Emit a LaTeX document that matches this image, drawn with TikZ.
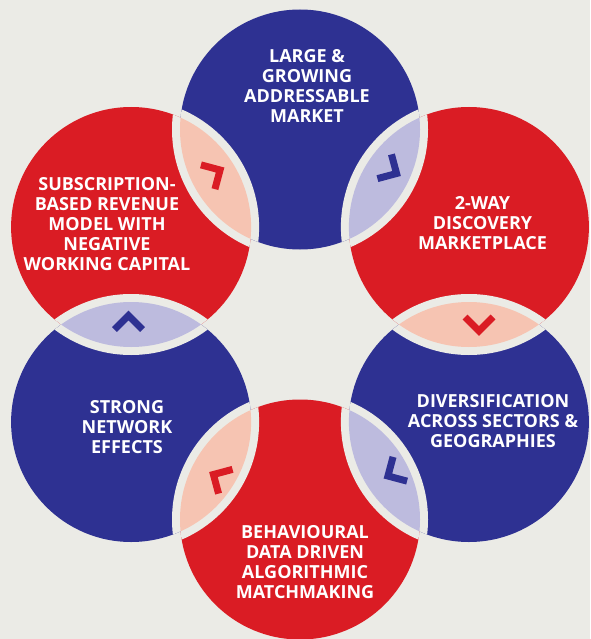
\documentclass[tikz,border=0pt]{standalone}
\usepackage{fontspec}
\setmainfont{Open Sans}
\definecolor{bg}{HTML}{EBEBE6}
\definecolor{cblue}{HTML}{2E3192}
\definecolor{cred}{HTML}{DA1C24}
\definecolor{lpink}{HTML}{F6C4B2}
\definecolor{llav}{HTML}{BDBBDE}
\begin{document}
\begin{tikzpicture}[x=1pt,y=-1pt,
  lbl/.style={text=white, font=\bfseries\fontsize{18}{20}\selectfont, align=center, inner sep=0pt},
  bigcirc/.style={circle, minimum size=240pt, inner sep=0pt, draw=none},
  chev/.style={line width=7pt, line join=miter, line cap=butt},
  chevron/.pic={\draw[chev, pic actions] (-7,-14) -- (7,0) -- (-7,14);}
]
\fill[bg] (0,0) rectangle (590,639);
\useasboundingbox (0,0) rectangle (590,639);
% circles
\node[bigcirc, fill=cblue] (T)  at (300,129.5) {};
\node[bigcirc, fill=cred]  (TR) at (468.9,227) {};
\node[bigcirc, fill=cblue] (BR) at (468.9,422) {};
\node[bigcirc, fill=cred]  (B)  at (300,519.5) {};
\node[bigcirc, fill=cblue] (BL) at (131.1,422) {};
\node[bigcirc, fill=cred]  (TL) at (131.1,227) {};
% lenses: grey band outside the overlap, then the overlap fill
\newcommand{\mylens}[3]{%
  \begin{scope}\clip (#1.center) circle[radius=120pt]; \draw[bg, line width=16pt] (#2.center) circle[radius=120pt];\end{scope}
  \begin{scope}\clip (#2.center) circle[radius=120pt]; \draw[bg, line width=16pt] (#1.center) circle[radius=120pt];\end{scope}
  \begin{scope}\clip (#1.center) circle[radius=120pt]; \fill[#3] (#2.center) circle[radius=120pt];\end{scope}}
\mylens{TL}{T}{lpink}
\mylens{T}{TR}{llav}
\mylens{TR}{BR}{lpink}
\mylens{BR}{B}{llav}
\mylens{B}{BL}{lpink}
\mylens{BL}{TL}{llav}
% chevrons
\pic[cred, rotate=30]   at (214,173.5) {chevron};
\pic[cblue, rotate=-30] at (390.5,170) {chevron};
\pic[cred, rotate=-90]  at (479,324) {chevron};
\pic[cblue, rotate=-150] at (394,472.5) {chevron};
\pic[cred, rotate=150]  at (219.5,478) {chevron};
\pic[cblue, rotate=90]  at (128.5,322.5) {chevron};
% texts
\node[lbl] (tT)  at (307,85.5) {LARGE \&\\GROWING\\ADDRESSABLE\\MARKET};
\node[lbl] (tTL) at (107,224) {SUBSCRIPTION-\\BASED REVENUE\\MODEL WITH\\NEGATIVE\\WORKING CAPITAL};
\node[lbl] (tTR) at (482.5,223.5) {2-WAY\\DISCOVERY\\MARKETPLACE};
\node[lbl] (tBR) at (493,421) {DIVERSIFICATION\\ACROSS SECTORS \&\\GEOGRAPHIES};
\node[lbl] (tBL) at (127,427) {STRONG\\NETWORK\\EFFECTS};
\node[lbl] (tB)  at (305,562) {BEHAVIOURAL\\DATA DRIVEN\\ALGORITHMIC\\MATCHMAKING};
\end{tikzpicture}
\end{document}
